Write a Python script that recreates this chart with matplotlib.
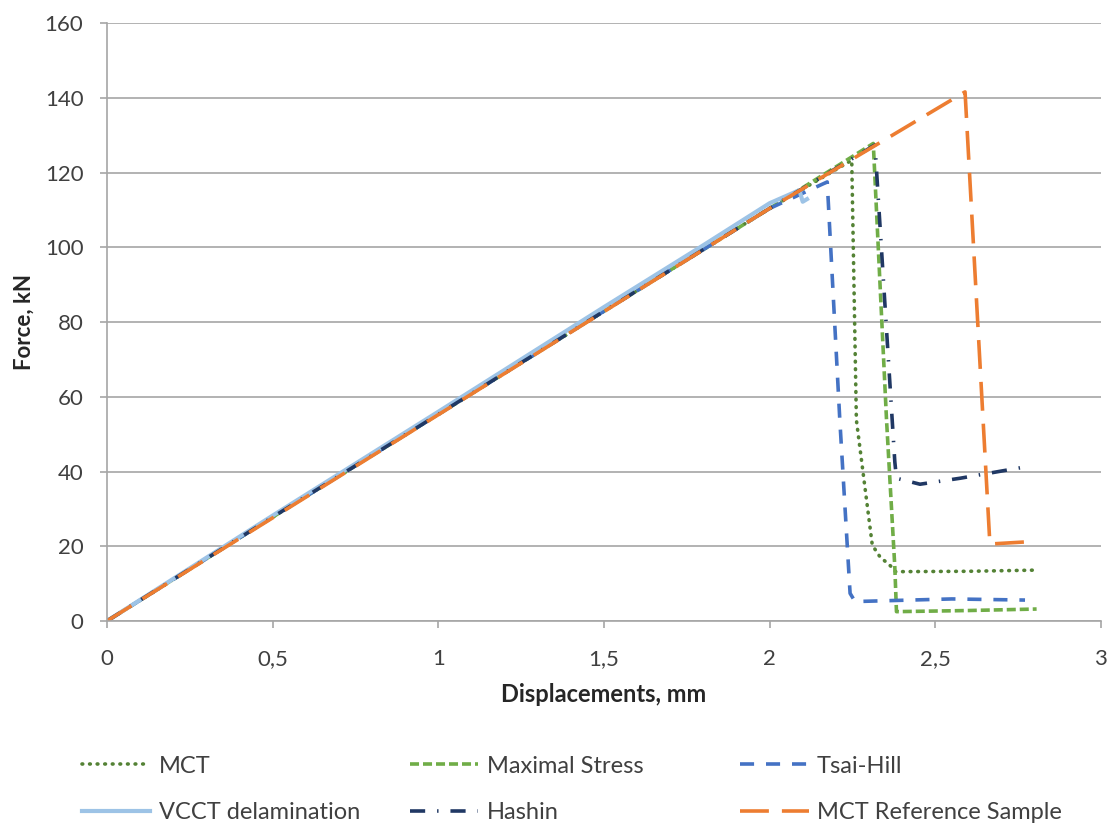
import matplotlib
matplotlib.use("Agg")
import matplotlib.pyplot as plt

plt.rcParams['font.family'] = ['Lato', 'DejaVu Sans']

# force-displacement curves, displacement in mm, force in kN
mct_x = [0, 0.5, 1.0, 1.5, 2.0, 2.248, 2.262, 2.31, 2.333, 2.368, 2.38, 2.6, 2.796]
mct_y = [0, 27.8, 55.3, 82.9, 110.4, 123.3, 53.8, 20.3, 17.2, 14.5, 13.2, 13.3, 13.6]

maxs_x = [0, 0.5, 1.0, 1.5, 2.0, 2.313, 2.353, 2.378, 2.383, 2.6, 2.806]
maxs_y = [0, 27.8, 55.3, 82.9, 110.4, 127.8, 53.8, 14.5, 2.5, 2.8, 3.2]

tsai_x = [0, 0.5, 1.0, 1.5, 2.0, 2.174, 2.212, 2.243, 2.258, 2.55, 2.771]
tsai_y = [0, 27.8, 55.3, 82.9, 110.4, 117.5, 53.8, 7.4, 5.2, 5.9, 5.6]

vcct_x = [0, 0.5, 1.0, 1.5, 1.79, 2.0, 2.09, 2.10, 2.113]
vcct_y = [0, 28.2, 56.0, 84.0, 100.0, 111.8, 115.3, 112.2, 112.9]

hashin_x = [0, 0.5, 1.0, 1.5, 2.0, 2.318, 2.378, 2.383, 2.454, 2.575, 2.776]
hashin_y = [0, 27.8, 55.3, 82.9, 110.4, 127.4, 42.6, 38.2, 36.6, 38.2, 41.3]

ref_x = [0, 0.5, 1.0, 1.5, 2.0, 2.59, 2.665, 2.8]
ref_y = [0, 27.6, 55.2, 82.8, 110.4, 141.6, 20.6, 21.3]

xticks = [0, 0.5, 1, 1.5, 2, 2.5, 3]
yticks = [0, 20, 40, 60, 80, 100, 120, 140, 160]

fig = plt.figure(figsize=(11.12, 8.26), dpi=100)
ax = fig.add_axes([0.0962, 0.2482, 0.8938, 0.7238])

lw = 2.6
l_mct, = ax.plot(mct_x, mct_y, color='#548235', lw=lw, dashes=(0.2, 1.9),
                 dash_capstyle='round', label='MCT')
l_maxs, = ax.plot(maxs_x, maxs_y, color='#70AD47', lw=lw, dashes=(2.5, 1.1),
                  label='Maximal Stress')
l_tsai, = ax.plot(tsai_x, tsai_y, color='#4472C4', lw=lw, dashes=(3.9, 3.3),
                  label='Tsai-Hill')
l_vcct, = ax.plot(vcct_x, vcct_y, color='#9DC3E6', lw=3.0, label='VCCT delamination')
l_hash, = ax.plot(hashin_x, hashin_y, color='#203864', lw=lw, dashes=(4.2, 3.3, 0.4, 3.3),
                  label='Hashin')
l_ref, = ax.plot(ref_x, ref_y, color='#ED7D31', lw=lw, dashes=(8.0, 3.6),
                 label='MCT Reference Sample')

ax.set_xlim(0, 3)
ax.set_ylim(0, 160)
ax.set_xticks(xticks)
ax.set_xticklabels([f'{t:g}'.replace('.', ',') for t in xticks])
ax.set_yticks(yticks)
ax.grid(axis='y', color='#a6a6a6', lw=1.2)
ax.set_axisbelow(True)
for s in ['top', 'right']:
    ax.spines[s].set_visible(False)
ax.spines['left'].set_color('#a6a6a6')
ax.spines['bottom'].set_color('#a6a6a6')
ax.spines['left'].set_linewidth(1.2)
ax.spines['bottom'].set_linewidth(1.2)
ax.tick_params(axis='y', length=5, width=1.2, color='#a6a6a6', labelsize=16,
               labelcolor='#404040', pad=12)
ax.tick_params(axis='x', length=5, width=1.2, color='#a6a6a6', labelsize=16,
               labelcolor='#404040', pad=15)

ax.set_xlabel('Displacements, mm', fontsize=17, fontweight='bold', color='#262626', labelpad=10)
ax.set_ylabel('Force, kN', fontsize=16, fontweight='bold', color='#262626', labelpad=7)

# one two-row legend per column so the columns sit at fixed positions
cols = [(l_mct, l_vcct), (l_maxs, l_hash), (l_tsai, l_ref)]
col_x = [0.0737, 0.3687, 0.6655]
for hs, x in zip(cols, col_x):
    leg = fig.legend(handles=list(hs), labels=[h.get_label() for h in hs],
                     loc='center left', bbox_to_anchor=(x, 0.0442), frameon=False,
                     fontsize=17, handlelength=2.9, handletextpad=0.35,
                     labelspacing=1.09, borderpad=0, borderaxespad=0,
                     labelcolor='#404040')

fig.savefig('out.png', dpi=100)
